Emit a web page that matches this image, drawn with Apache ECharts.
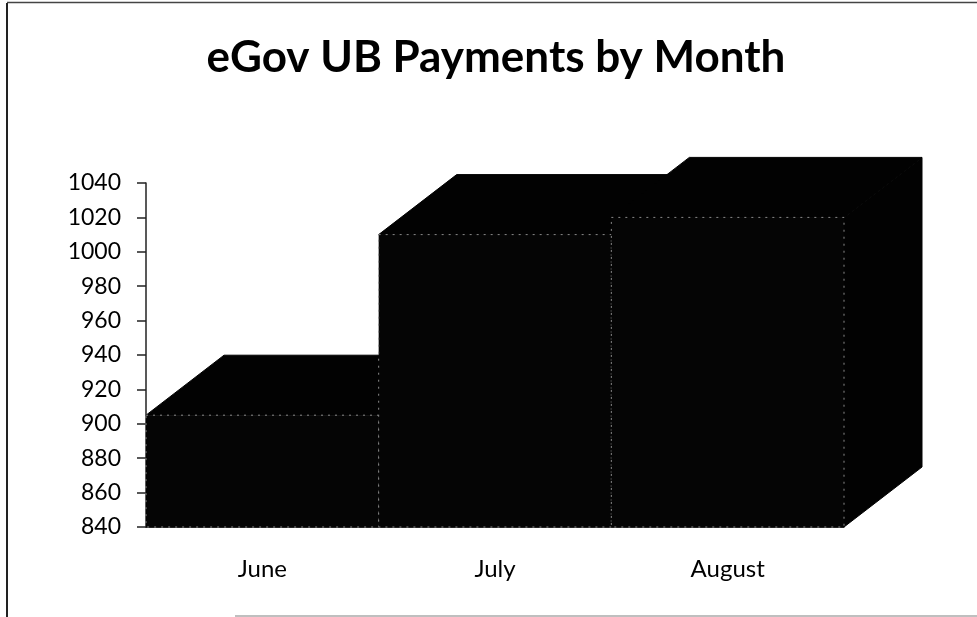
<!DOCTYPE html>
<html><head><meta charset="utf-8">
<style>html,body{margin:0;padding:0;background:#fff}#c{width:977px;height:617px}</style>
<script src="https://cdn.jsdelivr.net/npm/echarts@6/dist/echarts.min.js"></script>
</head><body><div id="c"></div>
<script>
const months = ['June', 'July', 'August'];
const payments = [905, 1010, 1020];
const yTicks = {min: 840, max: 1040, interval: 20};
const titleText = 'eGov UB Payments by Month';
const DX = 78, DY = -60;
const FONT = 'Lato, "Open Sans", sans-serif';
const chart = echarts.init(document.getElementById('c'));
function renderBar(params, api) {
  const i = api.value(0), v = api.value(1);
  const top = api.coord([i, v]), base = api.coord([i, yTicks.min]);
  const w = api.size([1, 0])[0];
  const x0 = top[0] - w / 2, x1 = top[0] + w / 2, yT = top[1], yB = base[1];
  const black = {fill: '#020202', stroke: '#020202', lineWidth: 1};
  return {type: 'group', children: [
    {type: 'polygon', shape: {points: [[x0, yT], [x0 + DX, yT + DY], [x1 + DX, yT + DY], [x1, yT]]}, style: black},
    {type: 'polygon', shape: {points: [[x1, yT], [x1 + DX, yT + DY], [x1 + DX, yB + DY], [x1, yB]]}, style: black},
    {type: 'rect', shape: {x: x0, y: yT, width: w, height: yB - yT}, style: {fill: '#050505', stroke: '#8a8a8a', lineWidth: 1, lineDash: [2, 5]}}
  ]};
}
chart.setOption({
  animation: false,
  backgroundColor: '#fff',
  title: {text: titleText, left: 491, top: 31, textAlign: 'center',
    textStyle: {fontFamily: FONT, fontWeight: 'bold', fontSize: 44, color: '#000'}},
  grid: {left: 146, right: 133, top: 183, bottom: 90},
  xAxis: {type: 'category', data: months, axisTick: {show: false},
    axisLine: {lineStyle: {color: '#222', width: 1}},
    axisLabel: {fontFamily: FONT, fontSize: 24, color: '#000', margin: 30}},
  yAxis: {type: 'value', min: yTicks.min, max: yTicks.max, interval: yTicks.interval,
    splitLine: {show: false},
    axisLine: {show: true, lineStyle: {color: '#222', width: 1.5}},
    axisTick: {show: true, length: 9, lineStyle: {color: '#222', width: 1.5}},
    axisLabel: {fontFamily: FONT, fontSize: 23, color: '#000', margin: 25, formatter: v => String(v)}},
  series: [{type: 'custom', renderItem: renderBar, clip: false,
    encode: {x: 0, y: 1},
    data: payments.map((v, i) => [i, v])}],
  graphic: [
    {type: 'line', shape: {x1: 7, y1: 3, x2: 7, y2: 617}, style: {stroke: '#222', lineWidth: 2}},
    {type: 'line', shape: {x1: 7, y1: 2.5, x2: 977, y2: 2.5}, style: {stroke: '#444', lineWidth: 1.5}},
    {type: 'line', shape: {x1: 235, y1: 616, x2: 977, y2: 616}, style: {stroke: '#aaa', lineWidth: 1.5}}
  ]
});
</script></body></html>
